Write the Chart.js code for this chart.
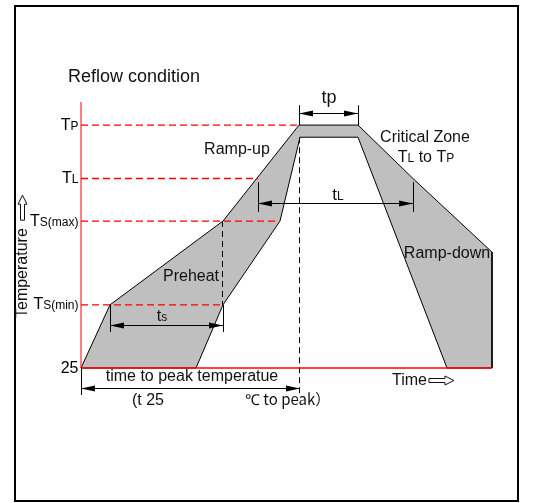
<!DOCTYPE html>
<html>
<head>
<meta charset="utf-8">
<script src="https://cdn.jsdelivr.net/npm/chart.js@4/dist/chart.umd.min.js"></script>
<style>
  html, body { margin: 0; padding: 0; background: #fff; }
  canvas { display: block; }
</style>
</head>
<body>
<canvas id="chart" width="536" height="503"></canvas>
<script>
// reflow profile band (x: time units, y: temperature level units)
const profileX = [0, 29, 142, 218, 277, 332, 411, 411, 366, 277, 219, 199, 142, 115, 0];
const profileY = [0, 26, 60.5, 100, 100, 78, 47.7, 0, 0, 95, 95, 60.5, 26, 0, 0];

// temperature levels on the y axis
const levelMain = ['25', 'T', 'T', 'T', 'T'];
const levelSub = ['', 'S(min)', 'S(max)', 'L', 'P'];
const levelY = [0, 26, 60.5, 78, 100];
const levelEnd = [0, 142, 199, 177, 218];

// black dashed guides
const guideX = [141.5, 218.5];
const guideTop = [60.5, 95];
const guideBottom = [26, -10.5];

// dimension arrows: ts, tL, tp, time to peak
const dimFrom = [29, 177, 218, 0];
const dimTo = [142, 332, 277, 219];
const dimAt = [17.7, 67.9, 104.9, -8.2];
const dimTickTop = [26, 76.5, 108.2, 0];
const dimTickBottom = [14.8, 64.2, 100, -11.1];

const xMax = 411;
const yMax = 109.5;
const FONT = '"Liberation Sans", Arial, sans-serif';

function pts(xs, ys) {
  return xs.map((x, i) => ({ x: x, y: ys[i] }));
}

const datasets = [];
datasets.push({
  label: 'profile',
  data: pts(profileX, profileY),
  fill: 'shape',
  backgroundColor: '#bfbfbf',
  borderColor: '#000',
  borderWidth: 1,
  order: 5
});
for (let i = 1; i < levelY.length; i++) {
  datasets.push({
    label: 'level' + i,
    data: pts([0, levelEnd[i]], [levelY[i], levelY[i]]),
    borderColor: '#ff0000',
    borderWidth: 1.3,
    borderDash: [7, 4],
    order: 3
  });
}
for (let i = 0; i < guideX.length; i++) {
  datasets.push({
    label: 'guide' + i,
    data: pts([guideX[i], guideX[i]], [guideTop[i], guideBottom[i]]),
    borderColor: '#000',
    borderWidth: 1,
    borderDash: [6, 4],
    order: 3
  });
}
datasets.push({
  label: 'axis',
  data: pts([0, 0], [0, yMax]),
  borderColor: 'rgba(255,0,0,0.5)',
  borderWidth: 2,
  order: 1
});
datasets.push({
  label: 'baseline',
  data: pts([0, xMax], [0, 0]),
  borderColor: '#ff0000',
  borderWidth: 1.5,
  order: 1
});

function runs(ctx, parts, x, y, align) {
  let w = 0;
  parts.forEach(p => { ctx.font = p[1] + 'px ' + (p[2] || FONT); w += ctx.measureText(p[0]).width; });
  let cx = align === 'right' ? x - w : align === 'center' ? x - w / 2 : x;
  ctx.textAlign = 'left';
  ctx.textBaseline = 'alphabetic';
  parts.forEach(p => {
    ctx.font = p[1] + 'px ' + (p[2] || FONT);
    ctx.fillText(p[0], cx, y);
    cx += ctx.measureText(p[0]).width;
  });
  return cx;
}

function arrowHead(ctx, x, y, dir) {
  ctx.beginPath();
  ctx.moveTo(x, y);
  ctx.lineTo(x - dir * 14, y - 3);
  ctx.lineTo(x - dir * 14, y + 3);
  ctx.closePath();
  ctx.fill();
}

// outlined "⇨" style arrow pointing right, starting at (x, y-center)
function hollowArrow(ctx, x, y) {
  ctx.save();
  ctx.translate(x, y);
  ctx.lineWidth = 1;
  ctx.strokeStyle = '#111';
  ctx.beginPath();
  ctx.moveTo(0, -2);
  ctx.lineTo(16, -2);
  ctx.lineTo(16, -4.5);
  ctx.lineTo(25, 0);
  ctx.lineTo(16, 4.5);
  ctx.lineTo(16, 2);
  ctx.lineTo(0, 2);
  ctx.closePath();
  ctx.stroke();
  ctx.restore();
}

const annotations = {
  id: 'annotations',
  beforeDraw(chart) {
    const ctx = chart.ctx;
    ctx.save();
    ctx.fillStyle = '#fff';
    ctx.fillRect(0, 0, chart.width, chart.height);
    ctx.strokeStyle = '#000';
    ctx.lineWidth = 2;
    ctx.strokeRect(15, 6, 503, 495);
    ctx.restore();
  },
  afterDatasetsDraw(chart) {
    const ctx = chart.ctx;
    const xs = chart.scales.x, ys = chart.scales.y;
    const px = v => xs.getPixelForValue(v);
    const py = v => ys.getPixelForValue(v);
    ctx.save();
    ctx.fillStyle = '#000';
    ctx.strokeStyle = '#000';
    ctx.lineWidth = 1;

    // dimension arrows
    for (let i = 0; i < dimFrom.length; i++) {
      const a = px(dimFrom[i]), b = px(dimTo[i]), y = Math.round(py(dimAt[i])) + 0.5;
      ctx.beginPath();
      ctx.moveTo(a, y); ctx.lineTo(b, y);
      ctx.stroke();
      arrowHead(ctx, a, y, -1);
      arrowHead(ctx, b, y, 1);
      const ends = i === 3 ? [dimFrom[i]] : [dimFrom[i], dimTo[i]];
      ends.forEach(e => {
        const x = Math.round(px(e)) + 0.5;
        ctx.beginPath();
        ctx.moveTo(x, py(dimTickTop[i]));
        ctx.lineTo(x, py(dimTickBottom[i]));
        ctx.stroke();
      });
    }

    // y level labels
    for (let i = 0; i < levelY.length; i++) {
      runs(ctx, [[levelMain[i], 16], [levelSub[i], 12]], 78.5, py(levelY[i]) + 4.5, 'right');
    }

    // text labels
    ctx.fillStyle = '#111';
    runs(ctx, [['Reflow condition', 18]], 68, 82, 'left');
    runs(ctx, [['Ramp-up', 16]], px(156), 154, 'center');
    runs(ctx, [['Preheat', 16]], px(110), 281, 'center');
    runs(ctx, [['Critical Zone', 16]], px(344), 142, 'center');
    runs(ctx, [['T', 16], ['L', 12], [' to T', 16], ['P', 12]], px(345), 162, 'center');
    runs(ctx, [['Ramp-down', 16]], px(366), 258, 'center');
    runs(ctx, [['t', 16], ['s', 12]], px(81), 321, 'center');
    runs(ctx, [['t', 17], ['L', 12]], px(257), 200, 'center');
    runs(ctx, [['tp', 18]], px(248), 103, 'center');
    runs(ctx, [['time to peak temperatue', 16]], px(111), 381, 'center');
    runs(ctx, [['(t 25', 16]], px(51), 405, 'left');
    runs(ctx, [['\u2103', 15], [' to peak\uFF09', 15, '"Noto Sans CJK SC", sans-serif']], px(164), 405, 'left');
    const tEnd = runs(ctx, [['Time', 16]], px(311), 385, 'left');
    hollowArrow(ctx, tEnd + 2, 380.5);

    // rotated axis title
    ctx.save();
    ctx.translate(27, 318);
    ctx.rotate(-Math.PI / 2);
    const aEnd = runs(ctx, [['Temperature', 16]], 0, 0, 'left');
    hollowArrow(ctx, aEnd + 8, -4.5);
    ctx.restore();

    ctx.restore();
  }
};

new Chart(document.getElementById('chart').getContext('2d'), {
  type: 'scatter',
  data: { datasets: datasets },
  options: {
    responsive: false,
    animation: false,
    layout: { padding: { left: 81, right: 44, top: 102, bottom: 135 } },
    datasets: {
      scatter: { showLine: true, pointRadius: 0, clip: false, tension: 0 }
    },
    scales: {
      x: { type: 'linear', min: 0, max: xMax, display: false },
      y: { type: 'linear', min: 0, max: yMax, display: false }
    },
    plugins: { legend: { display: false }, tooltip: { enabled: false } }
  },
  plugins: [annotations]
});
</script>
</body>
</html>
